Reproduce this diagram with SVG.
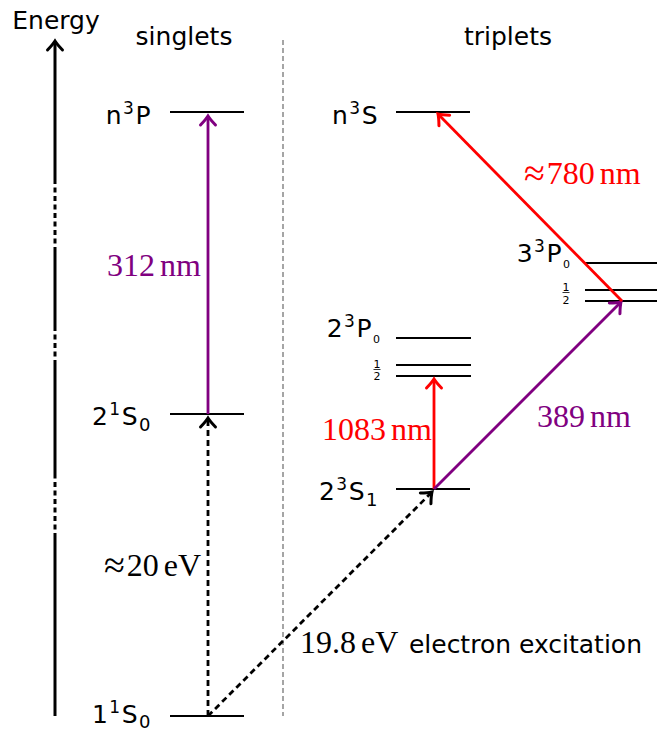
<svg xmlns="http://www.w3.org/2000/svg" width="657" height="733" viewBox="0 0 657 733">
<style>
.lv{stroke:#000;stroke-width:2;fill:none}
.sans{font-family:"DejaVu Sans",sans-serif;font-size:25px;fill:#000}
.lab{font-family:"DejaVu Sans",sans-serif;font-size:25px;fill:#000;letter-spacing:1.5px}
.math{font-family:"Liberation Serif",serif;font-size:32px}
.approx{font-size:38px}
.frac{font-family:"DejaVu Sans",sans-serif;font-size:11px;fill:#000}
.arr{stroke-width:2.8;fill:none}
</style>
<defs>
<marker id="hk" markerUnits="userSpaceOnUse" markerWidth="20" markerHeight="20" viewBox="-10 -10 20 20" refX="0" refY="0" orient="auto" overflow="visible">
<path d="M-9,-7.5 Q-3.5,-2.2 0,0 Q-3.5,2.2 -9,7.5" fill="none" stroke="#000" stroke-width="3" stroke-linecap="round"/>
</marker>
<marker id="hp" markerUnits="userSpaceOnUse" markerWidth="20" markerHeight="20" viewBox="-10 -10 20 20" refX="0" refY="0" orient="auto" overflow="visible">
<path d="M-9,-7.5 Q-3.5,-2.2 0,0 Q-3.5,2.2 -9,7.5" fill="none" stroke="#800080" stroke-width="3" stroke-linecap="round"/>
</marker>
<marker id="hr" markerUnits="userSpaceOnUse" markerWidth="20" markerHeight="20" viewBox="-10 -10 20 20" refX="0" refY="0" orient="auto" overflow="visible">
<path d="M-9,-7.5 Q-3.5,-2.2 0,0 Q-3.5,2.2 -9,7.5" fill="none" stroke="#ff0000" stroke-width="3" stroke-linecap="round"/>
</marker>
</defs>
<rect width="657" height="733" fill="#fff"/>

<g id="energy-axis">
<text class="sans" x="56" y="29" text-anchor="middle" font-size="26">Energy</text>
<line x1="55" y1="716" x2="55" y2="538" stroke="#000" stroke-width="3"/>
<line x1="55" y1="538" x2="55" y2="475" stroke="#000" stroke-width="3" stroke-dasharray="5 3.5"/>
<line x1="55" y1="475" x2="55" y2="365" stroke="#000" stroke-width="3"/>
<line x1="55" y1="365" x2="55" y2="330" stroke="#000" stroke-width="3" stroke-dasharray="5 3.5"/>
<line x1="55" y1="330" x2="55" y2="252" stroke="#000" stroke-width="3"/>
<line x1="55" y1="252" x2="55" y2="183" stroke="#000" stroke-width="3" stroke-dasharray="5 3.5"/>
<line x1="55" y1="183" x2="55" y2="41" stroke="#000" stroke-width="3" marker-end="url(#hk)"/>
</g>

<g id="headers">
<text class="sans" x="184" y="45" text-anchor="middle">singlets</text>
<text class="sans" x="508" y="45" text-anchor="middle">triplets</text>
<line x1="283" y1="40" x2="283" y2="716" stroke="#888" stroke-width="1.5" stroke-dasharray="5 3"/>
</g>

<g id="n3P">
<line class="lv" x1="170" y1="112" x2="244" y2="112"/>
<text class="lab" x="152" y="124" text-anchor="end">n<tspan dy="-10" font-size="17">3</tspan><tspan dy="10">P</tspan></text>
</g>

<g id="21S0">
<line class="lv" x1="170" y1="414" x2="244" y2="414"/>
<text class="lab" x="152" y="425" text-anchor="end">2<tspan dy="-10" font-size="17">1</tspan><tspan dy="10">S</tspan><tspan dy="6" font-size="18">0</tspan></text>
</g>

<g id="11S0">
<line class="lv" x1="170" y1="716" x2="244" y2="716"/>
<text class="lab" x="152" y="723" text-anchor="end">1<tspan dy="-10" font-size="17">1</tspan><tspan dy="10">S</tspan><tspan dy="5" font-size="18">0</tspan></text>
</g>

<g id="n3S">
<line class="lv" x1="396" y1="112" x2="470" y2="112"/>
<text class="lab" x="379" y="124" text-anchor="end">n<tspan dy="-10" font-size="17">3</tspan><tspan dy="10">S</tspan></text>
</g>

<g id="23P">
<line class="lv" x1="396" y1="338" x2="471" y2="338"/>
<line class="lv" x1="396" y1="365" x2="471" y2="365"/>
<line class="lv" x1="396" y1="376" x2="471" y2="376"/>
<text class="lab" x="373" y="337" text-anchor="end">2<tspan dy="-10" font-size="17">3</tspan><tspan dy="10">P</tspan></text>
<text class="frac" x="373" y="343" font-size="13">0</text>
<text class="frac" x="377" y="368" text-anchor="middle">1</text>
<line x1="373.5" y1="369.5" x2="380.5" y2="369.5" stroke="#000" stroke-width="0.8"/>
<text class="frac" x="377" y="380" text-anchor="middle">2</text>
</g>

<g id="23S1">
<line class="lv" x1="396" y1="489" x2="470" y2="489"/>
<text class="lab" x="379" y="500" text-anchor="end">2<tspan dy="-10" font-size="17">3</tspan><tspan dy="10">S</tspan><tspan dy="6" font-size="18">1</tspan></text>
</g>

<g id="33P">
<line class="lv" x1="585" y1="263" x2="657" y2="263"/>
<line class="lv" x1="585" y1="290" x2="657" y2="290"/>
<line class="lv" x1="585" y1="301" x2="657" y2="301"/>
<text class="lab" x="563" y="262" text-anchor="end">3<tspan dy="-10" font-size="17">3</tspan><tspan dy="10">P</tspan></text>
<text class="frac" x="563" y="268" font-size="13">0</text>
<text class="frac" x="566" y="291" text-anchor="middle">1</text>
<line x1="562.5" y1="292.5" x2="569.5" y2="292.5" stroke="#000" stroke-width="0.8"/>
<text class="frac" x="566" y="304" text-anchor="middle">2</text>
</g>

<g id="connectors">
<line class="arr" x1="208" y1="414" x2="208" y2="116" stroke="#800080" marker-end="url(#hp)"/>
<line class="arr" x1="208" y1="716" x2="208" y2="418" stroke="#000" stroke-dasharray="6 4" marker-end="url(#hk)"/>
<line class="arr" x1="208" y1="716" x2="432" y2="492" stroke="#000" stroke-dasharray="6 4" marker-end="url(#hk)"/>
<line class="arr" x1="434" y1="489" x2="434" y2="379" stroke="#ff0000" marker-end="url(#hr)"/>
<line class="arr" x1="434" y1="489" x2="621" y2="302" stroke="#800080" marker-end="url(#hp)"/>
<line class="arr" x1="622" y1="301" x2="438" y2="114" stroke="#ff0000" marker-end="url(#hr)"/>
</g>

<g id="labels">
<text class="math" x="107" y="276" fill="#800080">312<tspan dx="5">nm</tspan></text>
<text class="math" x="104" y="576" fill="#000"><tspan class="approx" dy="2">≈</tspan><tspan dx="2" dy="-2">20</tspan><tspan dx="5">eV</tspan></text>
<text class="math" x="322" y="440" fill="#ff0000">1083<tspan dx="5">nm</tspan></text>
<text class="math" x="537" y="427" fill="#800080">389<tspan dx="5">nm</tspan></text>
<text class="math" x="524" y="184" fill="#ff0000"><tspan class="approx" dy="2">≈</tspan><tspan dx="2" dy="-2">780</tspan><tspan dx="5">nm</tspan></text>
<text class="math" x="300" y="653" fill="#000">19.8<tspan dx="5">eV</tspan></text>
<text class="sans" x="642" y="653" text-anchor="end">electron excitation</text>
</g>
</svg>
